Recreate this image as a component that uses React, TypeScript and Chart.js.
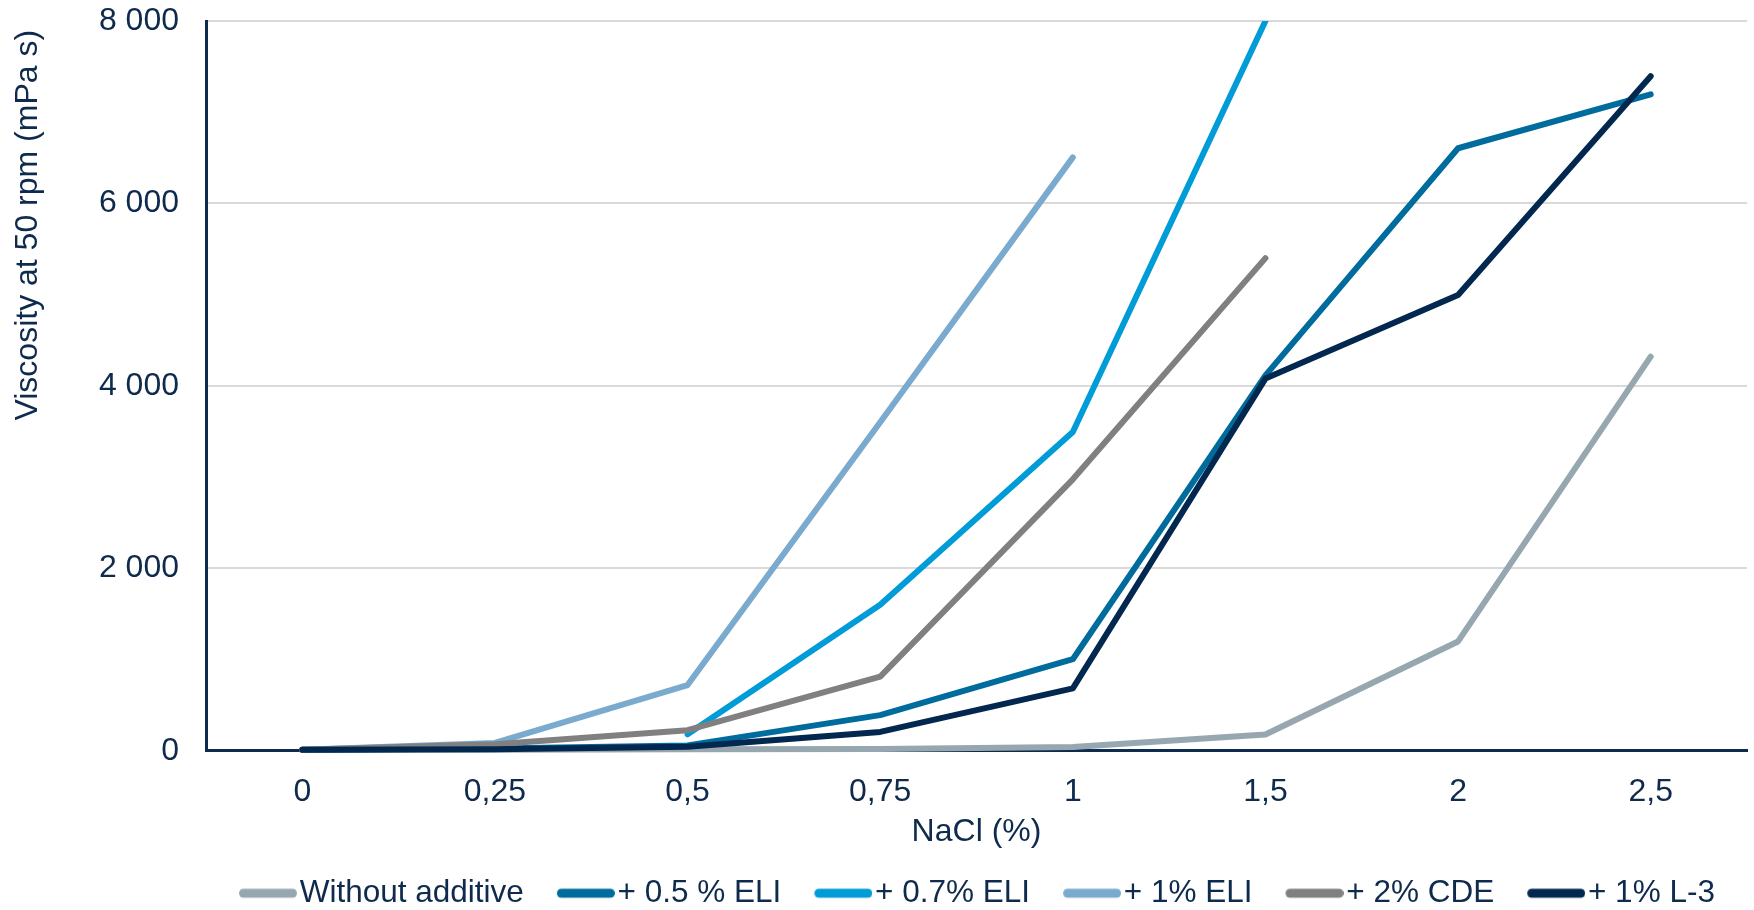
import React, { useEffect, useRef } from "react";
import { Chart, registerables } from "chart.js";

Chart.register(...registerables);

const categories = ["0", "0,25", "0,5", "0,75", "1", "1,5", "2", "2,5"];
const seriesNames = ["Without additive", "+ 0.5 % ELI", "+ 0.7% ELI", "+ 1% ELI", "+ 2% CDE", "+ 1% L-3"];
const seriesColors = ["#97A7B0", "#006C9E", "#009CD8", "#7BAACF", "#808080", "#03284F"];
const withoutAdditive = [10, 10, 15, 20, 40, 178, 1198, 4320];
const eli05 = [10, 25, 58, 390, 1003, 4115, 6605, 7195];
const eli07 = [null, null, 180, 1600, 3495, 8000, null, null];
const eli1 = [10, 85, 720, 3600, 6505, null, null, null];
const cde2 = [10, 70, 225, 812, 2975, 5400, null, null];
const l3 = [10, 15, 44, 206, 683, 4080, 4995, 7395];
const yTickValues = [0, 2000, 4000, 6000, 8000];
const xTitle = "NaCl (%)";
const yTitle = "Viscosity at 50 rpm (mPa s)";

const seriesValues = [withoutAdditive, eli05, eli07, eli1, cde2, l3];

const NAVY = "#0E2A4C";
const FONT = "'Liberation Sans', Arial, sans-serif";
const FS = 32;
const LFS = 31.5;

// legend swatch image: item box is 78 wide, image centred at +39, swatch drawn from +33 to +91
function makeSwatch(color: string): HTMLCanvasElement {
  const c = document.createElement("canvas");
  c.width = 104;
  c.height = 12;
  const g = c.getContext("2d")!;
  g.strokeStyle = color;
  g.lineWidth = 9;
  g.lineCap = "round";
  g.beginPath();
  g.moveTo(46 + 4.5, 6);
  g.lineTo(104 - 4.5, 6);
  g.stroke();
  return c;
}

function fmt(v: number): string {
  return String(v).replace(/\B(?=(\d{3})+(?!\d))/g, " ");
}

export default function App() {
  const ref = useRef<HTMLCanvasElement | null>(null);

  useEffect(() => {
    document.body.style.margin = "0";
    const canvas = ref.current!;
    const swatches = seriesColors.map(makeSwatch);
    const chart = new Chart(canvas, {
      type: "line",
      data: {
        labels: categories,
        datasets: seriesNames.map((name, i) => ({
          label: name,
          data: seriesValues[i],
          borderColor: seriesColors[i],
          backgroundColor: seriesColors[i],
          borderWidth: 6,
          borderCapStyle: "round",
          borderJoinStyle: "round",
          pointRadius: 0,
          pointHoverRadius: 0,
          fill: false,
          tension: 0,
          spanGaps: false,
          order: seriesNames.length - 1 - i,
          clip: { left: 5, right: 5, top: 0, bottom: 5 },
        })),
      },
      options: {
        animation: false,
        responsive: false,
        maintainAspectRatio: false,
        layout: { padding: { top: 21, right: 7, left: 0, bottom: -9 } },
        plugins: {
          tooltip: { enabled: false },
          legend: {
            position: "bottom",
            align: "start",
            fullSize: false,
            labels: {
              usePointStyle: true,
              pointStyleWidth: 78,
              boxHeight: LFS,
              padding: 0,
              color: NAVY,
              font: { family: FONT, size: LFS },
              sort: (a: any, b: any) => a.datasetIndex - b.datasetIndex,
              generateLabels: (ch: any) => {
                const base = (Chart as any).defaults.plugins.legend.labels.generateLabels(ch);
                return base.map((it: any) => ({ ...it, pointStyle: swatches[it.datasetIndex], fontColor: NAVY }));
              },
            },
          },
        },
        scales: {
          x: {
            type: "category",
            offset: true,
            grid: { display: false, drawTicks: false },
            border: { color: NAVY, width: 3 },
            ticks: { color: NAVY, font: { family: FONT, size: FS }, padding: 22, maxRotation: 0 },
            title: {
              display: true,
              text: xTitle,
              color: NAVY,
              font: { family: FONT, size: FS },
              padding: { top: -20, bottom: 26 },
            },
          },
          y: {
            min: 0,
            max: 8000,
            afterBuildTicks: (s: any) => {
              s.ticks = yTickValues.map((v) => ({ value: v }));
            },
            afterFit: (s: any) => {
              s.width = 206;
              s.paddingTop = 20;
              s.paddingBottom = 0;
            },
            grid: { color: "#D9D9D9", lineWidth: 2, drawTicks: false },
            border: { color: NAVY, width: 3 },
            ticks: {
              color: NAVY,
              font: { family: FONT, size: FS },
              padding: 27,
              callback: (v: any) => fmt(Number(v)),
            },
            title: {
              display: true,
              text: yTitle + " ",
              align: "end",
              color: NAVY,
              font: { family: FONT, size: FS },
              padding: { top: 9, bottom: 0 },
            },
          },
        },
      },
    } as any);
    return () => chart.destroy();
  }, []);

  return (
    <div style={{ position: "fixed", left: 0, top: 0, width: 1754, height: 910, background: "#fff" }}>
      <canvas ref={ref} width={1754} height={910} style={{ width: 1754, height: 910 }} />
    </div>
  );
}
